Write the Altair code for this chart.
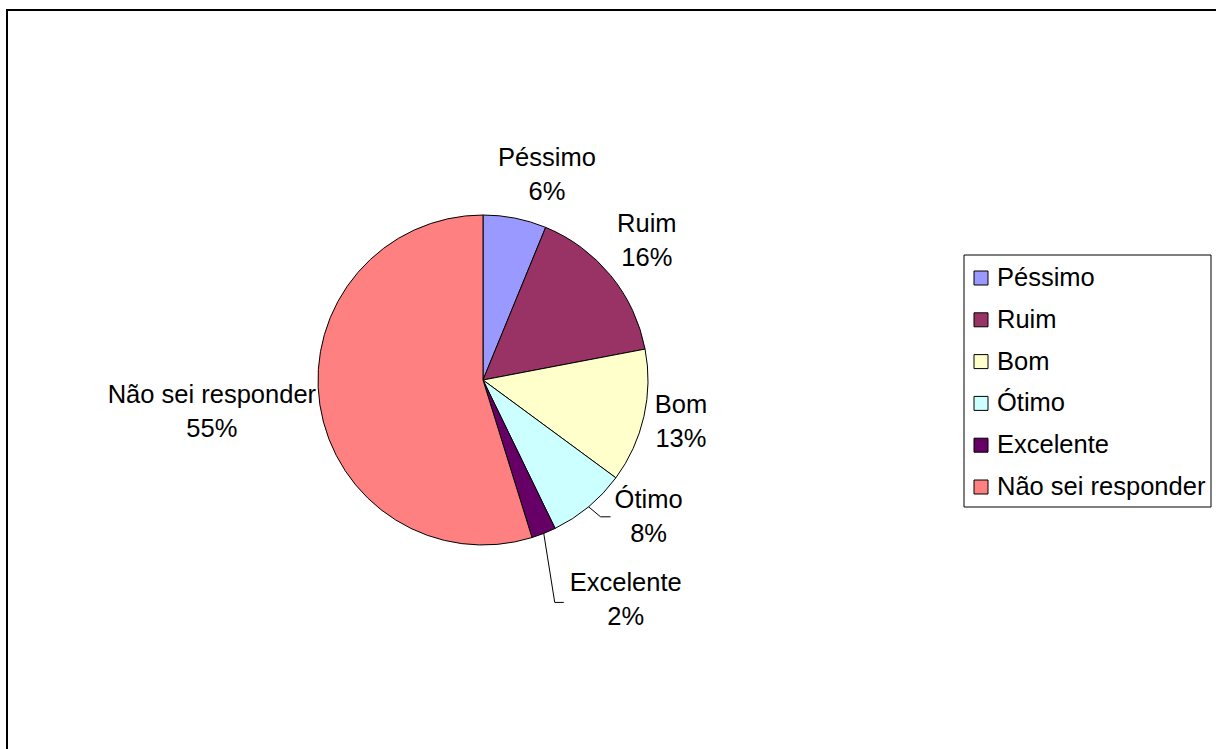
import json
import altair as alt
import pandas as pd

# ---- data ----
categories = ["Péssimo", "Ruim", "Bom", "Ótimo", "Excelente", "Não sei responder"]
values = [6.2, 15.8, 13.1, 7.7, 2.4, 54.8]
colors = ["#9999FF", "#993366", "#FFFFCC", "#CCFFFF", "#660066", "#FF8080"]

df = pd.DataFrame({"cat": categories, "value": values, "idx": list(range(len(categories)))})

# ---- layout / style ----
W, H = 1216, 749
CX, CY, R = 483, 380, 165
FONT = "Liberation Sans"
FS = 25.5
LINE_H = 34

# label offsets (dx, dy) of the label block centre from the slice's outer-edge mid-point
LABEL_OFFSETS = {
    "Péssimo": (32, -43),
    "Ruim": (36, -35),
    "Bom": (37, 6),
    "Ótimo": (60, 10),
    "Excelente": (82, 67),
    "Não sei responder": (-108, 7),
}
# leader lines: (elbow dx, elbow dy, end dx) relative to the label centre
LEADERS = {
    "Ótimo": (-48, 0, -38),
    "Excelente": (-71, 2, -62),
}

# legend box and rows
LEG_X0, LEG_X1, LEG_Y0, LEG_Y1 = 964, 1211, 255, 507
LEG_ROW_FIRST, LEG_ROW_LAST = 278, 487
LEG_SYM_X, LEG_TEXT_X = 981, 997


def cat_expr(mapping, pos, default=0):
    expr = str(default)
    for k, v in mapping.items():
        expr = f"(datum.cat === {json.dumps(k)} ? {v[pos]} : {expr})"
    return expr


color_scale = alt.Scale(domain=categories, range=colors)

base = alt.Chart(df).transform_joinaggregate(
    total="sum(value)"
).transform_window(
    cum="sum(value)", sort=[alt.SortField("idx")], frame=[None, 0]
).transform_calculate(
    mid="(datum.cum - datum.value / 2) / datum.total * 2 * PI",
).transform_calculate(
    ex=f"{CX} + {R} * sin(datum.mid)",
    ey=f"{CY} - {R} * cos(datum.mid)",
    pct="format(datum.value / datum.total, '.0%')",
).transform_calculate(
    lx=f"datum.ex + {cat_expr(LABEL_OFFSETS, 0)}",
    ly=f"datum.ey + {cat_expr(LABEL_OFFSETS, 1)}",
    label="datum.cat + '\\n' + datum.pct",
)

pie = alt.Chart(df).mark_arc(outerRadius=R, stroke="black", strokeWidth=1).encode(
    theta=alt.Theta("value:Q", stack=True),
    order=alt.Order("idx:Q"),
    color=alt.Color("cat:N", scale=color_scale, legend=None),
    x=alt.value(CX),
    y=alt.value(CY),
)

labels = base.mark_text(
    font=FONT, fontSize=FS, lineBreak="\n", lineHeight=LINE_H,
    align="center", baseline="middle", color="black", dy=-LINE_H / 2,
).encode(
    x=alt.X("lx:Q", scale=None),
    y=alt.Y("ly:Q", scale=None),
    text="label:N",
)

lead = base.transform_filter(
    alt.FieldOneOfPredicate(field="cat", oneOf=list(LEADERS.keys()))
).transform_calculate(
    bx=f"datum.lx + {cat_expr(LEADERS, 0)}",
    by=f"datum.ly + {cat_expr(LEADERS, 1)}",
    fx=f"datum.lx + {cat_expr(LEADERS, 2)}",
)
lead1 = lead.mark_rule(color="black", strokeWidth=1).encode(
    x=alt.X("ex:Q", scale=None), y=alt.Y("ey:Q", scale=None),
    x2="bx:Q", y2="by:Q",
)
lead2 = lead.mark_rule(color="black", strokeWidth=1).encode(
    x=alt.X("bx:Q", scale=None), x2="fx:Q", y=alt.Y("by:Q", scale=None),
)

# ---- legend (drawn by hand to match the Excel box) ----
one = alt.Data(values=[{"a": 1}])
leg_box = alt.Chart(one).mark_rect(fill="white", stroke="black", strokeWidth=1).encode(
    x=alt.value(LEG_X0), x2=alt.value(LEG_X1), y=alt.value(LEG_Y0), y2=alt.value(LEG_Y1)
)
leg_y = alt.Y(
    "cat:N",
    scale=alt.Scale(type="point", domain=categories, range=[LEG_ROW_FIRST, LEG_ROW_LAST], padding=0),
    axis=None,
)
leg_sym = alt.Chart(df).mark_square(size=196, opacity=1, stroke="black", strokeWidth=1).encode(
    x=alt.value(LEG_SYM_X),
    y=leg_y,
    color=alt.Color("cat:N", scale=color_scale, legend=None),
)
leg_txt = alt.Chart(df).mark_text(
    font=FONT, fontSize=FS, align="left", baseline="middle", color="black"
).encode(
    x=alt.value(LEG_TEXT_X),
    y=leg_y,
    text="cat:N",
)

# ---- outer frame (top and left edges visible) ----
frame_top = alt.Chart(one).mark_rule(color="black", strokeWidth=2).encode(
    x=alt.value(6), x2=alt.value(W), y=alt.value(10)
)
frame_left = alt.Chart(one).mark_rule(color="black", strokeWidth=2).encode(
    x=alt.value(7), y=alt.value(9), y2=alt.value(H)
)

chart = alt.layer(
    frame_top, frame_left, pie, lead1, lead2, labels, leg_box, leg_sym, leg_txt
).resolve_scale(y="independent").properties(
    width=W, height=H, autosize=alt.AutoSizeParams(type="none"), padding=0,
    background="white",
).configure_view(stroke=None)

chart.save("out.html", embed_options={"renderer": "svg", "actions": False})
